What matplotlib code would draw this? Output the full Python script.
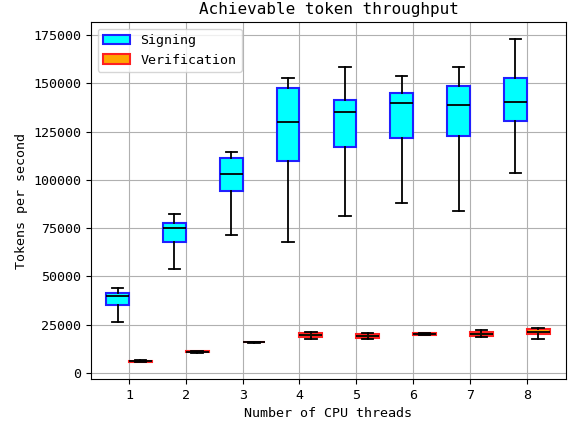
import matplotlib
matplotlib.use("Agg")
import matplotlib.pyplot as plt
from matplotlib.patches import Patch

plt.rcParams['font.family'] = ['DejaVu Sans Mono', 'DejaVu Sans']
plt.rcParams['font.size'] = 9.6

threads = [1, 2, 3, 4, 5, 6, 7, 8]

# Signing: whisker low, q1, median, q3, whisker high
sign_whislo = [26600, 53800, 71400, 68000, 81400, 88100, 84000, 103500]
sign_q1     = [35200, 68000, 94400, 109700, 117000, 121500, 122700, 130300]
sign_med    = [40000, 75200, 102800, 129800, 135200, 139800, 138900, 140300]
sign_q3     = [41400, 77800, 111100, 147700, 141100, 145100, 148700, 152800]
sign_whishi = [44000, 82500, 114600, 152800, 158500, 153700, 158400, 172700]

# Verification
ver_whislo = [5500, 10500, 15600, 17400, 17400, 19600, 18600, 17600]
ver_q1     = [5800, 10800, 15800, 18500, 18300, 19900, 19300, 20300]
ver_med    = [6000, 11000, 15900, 19500, 19200, 20300, 20300, 21400]
ver_q3     = [6200, 11200, 16000, 20500, 20000, 20500, 21400, 22600]
ver_whishi = [6500, 11500, 16200, 21200, 20500, 20800, 22100, 23300]


def stats(lo, q1, med, q3, hi):
    return [dict(whislo=a, q1=b, med=c, q3=d, whishi=e, fliers=[])
            for a, b, c, d, e in zip(lo, q1, med, q3, hi)]


fig = plt.figure(figsize=(5.68, 4.23), dpi=100)
ax = fig.add_axes([0.160, 0.104, 0.8365, 0.844])

ax.grid(True, color='#b0b0b0', linewidth=0.8)
ax.set_axisbelow(True)

common = dict(widths=0.4, patch_artist=True, showfliers=False,
              medianprops=dict(color='black', linewidth=1.3),
              whiskerprops=dict(color='black', linewidth=1.3),
              capprops=dict(color='black', linewidth=1.3))

ax.bxp(stats(sign_whislo, sign_q1, sign_med, sign_q3, sign_whishi),
       positions=[t - 0.2 for t in threads],
       boxprops=dict(facecolor='cyan', edgecolor='#2020ff', linewidth=1.5),
       **common)
ax.bxp(stats(ver_whislo, ver_q1, ver_med, ver_q3, ver_whishi),
       positions=[t + 0.2 for t in threads],
       boxprops=dict(facecolor='orange', edgecolor='#ff2020', linewidth=1.5),
       **common)

ax.set_xticks(threads)
ax.set_xticklabels([str(t) for t in threads])
ax.set_xlim(0.33, 8.69)
ax.set_ylim(-3100, 181700)
ax.set_yticks([0, 25000, 50000, 75000, 100000, 125000, 150000, 175000])
ax.tick_params(labelsize=9.6)

ax.set_title('Achievable token throughput', fontsize=11.5)
ax.set_xlabel('Number of CPU threads', fontsize=9.6)
ax.set_ylabel('Tokens per second', fontsize=9.6)

handles = [Patch(facecolor='cyan', edgecolor='#2020ff', linewidth=1.5, label='Signing'),
           Patch(facecolor='orange', edgecolor='#ff2020', linewidth=1.5, label='Verification')]
ax.legend(handles=handles, loc='upper left', fontsize=9.6)

fig.savefig('out.png', dpi=100)
